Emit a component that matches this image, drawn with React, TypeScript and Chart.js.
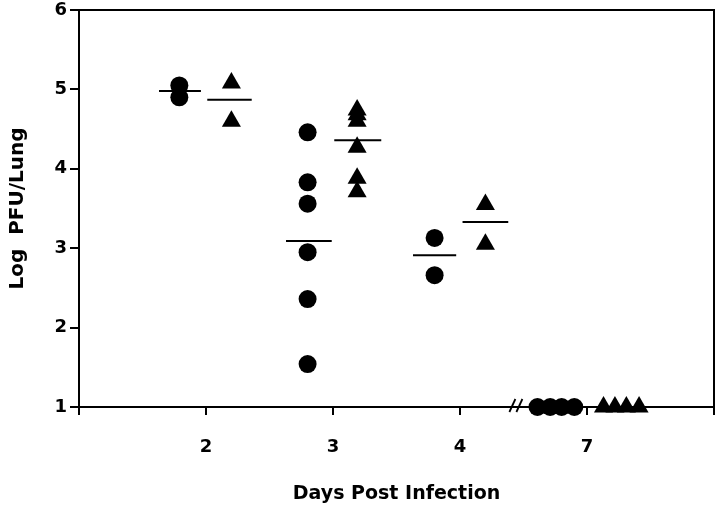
import React, { useEffect, useRef } from "react";
import { Chart, registerables } from "chart.js";

Chart.register(...registerables);

// Circles (group 1)
const circleX = [1.79, 1.79, 2.8, 2.8, 2.8, 2.8, 2.8, 2.8, 3.8, 3.8, 4.61, 4.71, 4.8, 4.9];
const circleY = [5.05, 4.9, 4.46, 3.83, 3.56, 2.95, 2.36, 1.54, 3.13, 2.66, 1, 1, 1, 1];
// Triangles (group 2)
const triangleX = [2.2, 2.2, 3.19, 3.19, 3.19, 3.19, 3.19, 3.19, 4.2, 4.2, 5.13, 5.22, 5.31, 5.41];
const triangleY = [5.08, 4.6, 4.74, 4.68, 4.6, 4.27, 3.88, 3.71, 3.55, 3.05, 1, 1, 1, 1];
// Mean bars
const meanStart = [1.63, 2.01, 2.63, 3.01, 3.63, 4.02];
const meanEnd = [1.96, 2.36, 2.99, 3.38, 3.97, 4.38];
const meanY = [4.98, 4.87, 3.09, 4.36, 2.91, 3.33];
// Axis
const xTickLabels = ["", "2", "3", "4", "7", ""];
const axisBreakAt = 4.44;

const FONT = "'DejaVu Sans', 'Liberation Sans', Arial, sans-serif";

const framePlugin = {
  id: "frame",
  afterDraw(chart: any) {
    const { ctx, chartArea } = chart;
    const xs = chart.scales.x;
    const ys = chart.scales.y;
    ctx.save();
    ctx.strokeStyle = "#000";
    ctx.lineWidth = 2;
    ctx.beginPath();
    ctx.moveTo(chartArea.left, chartArea.top);
    ctx.lineTo(chartArea.right, chartArea.top);
    ctx.lineTo(chartArea.right, chartArea.bottom);
    ctx.stroke();
    // axis break "//"
    const bx = xs.getPixelForValue(axisBreakAt);
    const by = ys.getPixelForValue(1);
    ctx.lineWidth = 1.8;
    for (const off of [-3.5, 3.5]) {
      ctx.beginPath();
      ctx.moveTo(bx + off - 3, by + 5);
      ctx.lineTo(bx + off + 3, by - 8);
      ctx.stroke();
    }
    ctx.restore();
  },
};

export default function App() {
  const ref = useRef<HTMLCanvasElement | null>(null);

  useEffect(() => {
    document.body.style.margin = "0";
    if (!ref.current) return;
    const meanSets = meanY.map((y, i) => ({
      type: "line" as const,
      data: [
        { x: meanStart[i], y },
        { x: meanEnd[i], y },
      ],
      borderColor: "#000",
      borderWidth: 2,
      pointRadius: 0,
      showLine: true,
      fill: false,
      clip: false as any,
    }));
    const chart = new Chart(ref.current, {
      type: "scatter",
      data: {
        datasets: [
          {
            data: circleX.map((x, i) => ({ x, y: circleY[i] })),
            pointStyle: "circle",
            pointRadius: 9,
            backgroundColor: "#000",
            borderColor: "#000",
            borderWidth: 0,
            clip: false as any,
          },
          {
            data: triangleX.map((x, i) => ({ x, y: triangleY[i] })),
            pointStyle: "triangle",
            pointRadius: 11,
            backgroundColor: "#000",
            borderColor: "#000",
            borderWidth: 0,
            clip: false as any,
          },
          ...(meanSets as any),
        ],
      },
      options: {
        animation: false,
        responsive: false,
        layout: { autoPadding: false, padding: { top: 10, right: 6, bottom: 0, left: 0 } },
        plugins: { legend: { display: false }, tooltip: { enabled: false } },
        scales: {
          x: {
            type: "linear",
            min: 1,
            max: 6,
            afterFit(scale: any) {
              scale.height = 102;
              scale.paddingLeft = 0;
              scale.paddingRight = 0;
            },
            border: { color: "#000", width: 2 },
            grid: {
              drawOnChartArea: false,
              drawTicks: true,
              tickLength: 8,
              color: "#000",
              lineWidth: 2,
            },
            ticks: {
              stepSize: 1,
              autoSkip: false,
              maxRotation: 0,
              padding: 22,
              color: "#000",
              font: { family: FONT, size: 18, weight: "bold" },
              callback: (v: any) => xTickLabels[Math.round(Number(v)) - 1] ?? "",
            },
            title: {
              display: true,
              text: "Days Post Infection",
              color: "#000",
              font: { family: FONT, size: 19, weight: "bold" },
              padding: { top: 0, bottom: 4 },
            },
          },
          y: {
            min: 1,
            max: 6,
            afterFit(scale: any) {
              scale.width = 79;
              scale.paddingTop = 0;
              scale.paddingBottom = 0;
            },
            border: { color: "#000", width: 2 },
            grid: {
              drawOnChartArea: false,
              drawTicks: true,
              tickLength: 9,
              color: "#000",
              lineWidth: 2,
            },
            ticks: {
              stepSize: 1,
              padding: 3,
              color: "#000",
              font: { family: FONT, size: 18, weight: "bold" },
            },
            title: {
              display: true,
              text: "Log  PFU/Lung",
              color: "#000",
              font: { family: FONT, size: 20, weight: "bold" },
              padding: { top: 6, bottom: 0 },
            },
          },
        },
      },
      plugins: [framePlugin],
    });
    return () => chart.destroy();
  }, []);

  return (
    <div style={{ width: 720, height: 509 }}>
      <canvas ref={ref} width={720} height={509} style={{ display: "block" }} />
    </div>
  );
}
